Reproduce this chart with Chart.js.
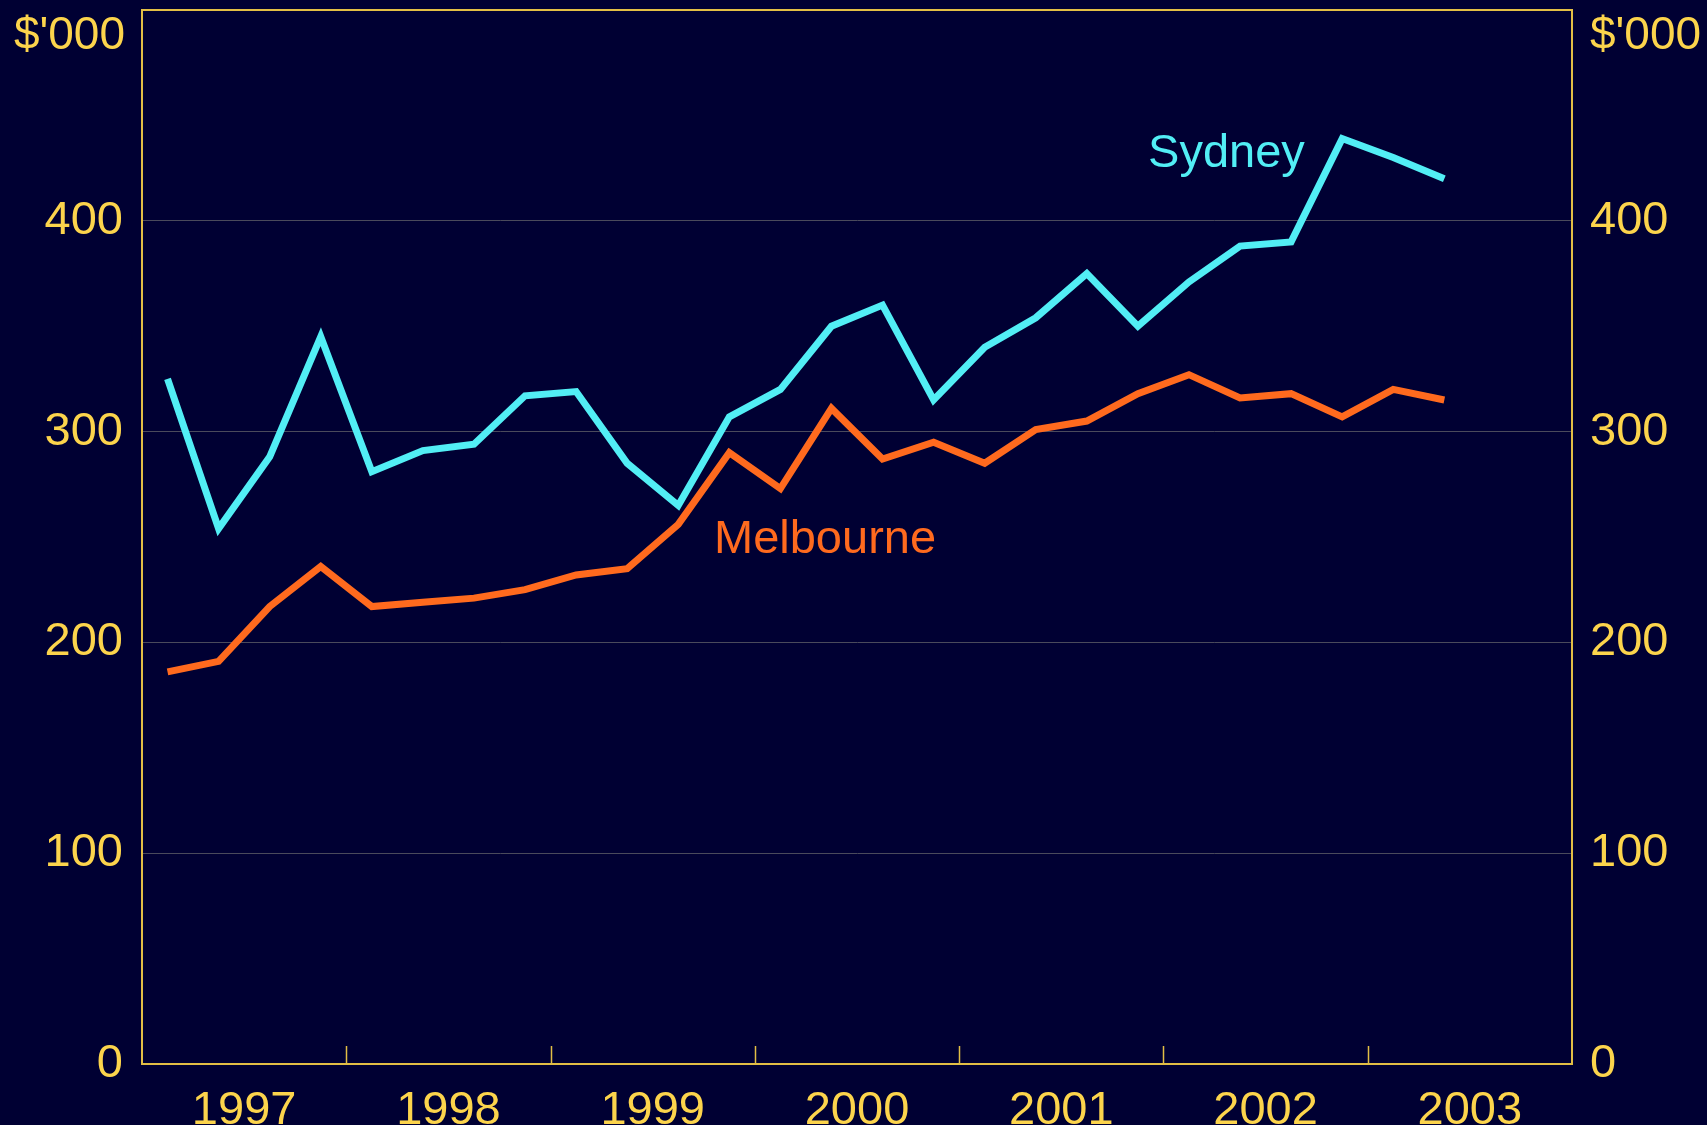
<!DOCTYPE html>
<html>
<head>
<meta charset="utf-8">
<script src="https://cdn.jsdelivr.net/npm/chart.js@4/dist/chart.umd.min.js"></script>
<style>
  body { margin: 0; background: #000033; }
  #wrap { width: 1707px; height: 1125px; position: relative; }
</style>
</head>
<body>
<div id="wrap"><canvas id="chart"></canvas></div>
<script>
// quarterly median house prices, $'000
var quarters = ['1997Q1','1997Q2','1997Q3','1997Q4','1998Q1','1998Q2','1998Q3','1998Q4',
                '1999Q1','1999Q2','1999Q3','1999Q4','2000Q1','2000Q2','2000Q3','2000Q4',
                '2001Q1','2001Q2','2001Q3','2001Q4','2002Q1','2002Q2','2002Q3','2002Q4',
                '2003Q1','2003Q2'];
var sydney = [325, 254, 288, 345, 281, 291, 294, 317, 319, 285, 265, 307, 320, 350, 360, 315,
              340, 354, 375, 350, 371, 388, 390, 439, 430, 420];
var melbourne = [186, 191, 217, 236, 217, 219, 221, 225, 232, 235, 256, 290, 273, 311, 287, 295,
                 285, 301, 305, 318, 327, 316, 318, 307, 320, 315];
var years = [1997, 1998, 1999, 2000, 2001, 2002, 2003];
var yTicks = [0, 100, 200, 300, 400, 500];

var YELLOW = '#FCD44C';
var BORDER = '#E2BE45';
var CYAN = '#52EEF5';
var ORANGE = '#FF6A1E';
var FONT = '"Liberation Sans", Arial, sans-serif';

// quarter label -> position on a year axis (middle of the quarter)
function qPos(q) {
    return parseInt(q.substr(0, 4)) + (parseInt(q.substr(5)) - 0.5) / 4;
}
function toPoints(vals) {
    return vals.map(function (v, i) { return { x: qPos(quarters[i]), y: v }; });
}

var decor = {
    id: 'decor',
    afterDraw: function (chart) {
        var ctx = chart.ctx, a = chart.chartArea;
        var xs = chart.scales.x, ys = chart.scales.y;
        ctx.save();
        // top border line
        ctx.strokeStyle = BORDER;
        ctx.lineWidth = 2;
        ctx.beginPath();
        ctx.moveTo(a.left, a.top);
        ctx.lineTo(a.right, a.top);
        ctx.stroke();
        // year tick marks pointing into plot
        ctx.lineWidth = 1.5;
        for (var i = 1; i < years.length; i++) {
            var px = Math.round(xs.getPixelForValue(years[i])) + 0.5;
            ctx.beginPath();
            ctx.moveTo(px, a.bottom);
            ctx.lineTo(px, a.bottom - 18);
            ctx.stroke();
        }
        // units
        ctx.fillStyle = YELLOW;
        ctx.font = '46px ' + FONT;
        ctx.textBaseline = 'alphabetic';
        ctx.textAlign = 'right';
        ctx.fillText("$'000", a.left - 17, a.top + 39);
        ctx.textAlign = 'left';
        ctx.fillText("$'000", a.right + 18, a.top + 39);
        // series labels
        ctx.font = '47px ' + FONT;
        ctx.fillStyle = CYAN;
        ctx.fillText('Sydney', xs.getPixelForValue(2001.925), ys.getPixelForValue(425.5));
        ctx.fillStyle = ORANGE;
        ctx.fillText('Melbourne', xs.getPixelForValue(1999.8), ys.getPixelForValue(242.4));
        ctx.restore();
    }
};

var tickFont = { family: FONT, size: 47 };

function fixY(w) {
    return function (s) {
        s.width = w;
        s.paddingTop = 0;
        s.paddingBottom = 0;
    };
}

new Chart(document.getElementById('chart'), {
    type: 'line',
    data: {
        datasets: [{
            label: 'Sydney',
            data: toPoints(sydney),
            borderColor: CYAN,
            borderWidth: 7,
            pointRadius: 0,
            tension: 0,
            yAxisID: 'y'
        }, {
            label: 'Melbourne',
            data: toPoints(melbourne),
            borderColor: ORANGE,
            borderWidth: 7,
            pointRadius: 0,
            tension: 0,
            yAxisID: 'y'
        }]
    },
    options: {
        responsive: true,
        maintainAspectRatio: false,
        animation: false,
        layout: { padding: { top: 10, left: 0, right: 0, bottom: 0 } },
        plugins: { legend: { display: false }, tooltip: { enabled: false } },
        scales: {
            x: {
                type: 'linear',
                position: 'bottom',
                min: years[0],
                max: years[years.length - 1] + 1,
                afterBuildTicks: function (s) {
                    s.ticks = years.map(function (y) { return { value: y + 0.5 }; });
                },
                afterFit: function (s) {
                    s.height = 61;
                    s.paddingLeft = 0;
                    s.paddingRight = 0;
                },
                ticks: {
                    color: YELLOW,
                    font: tickFont,
                    padding: 11,
                    autoSkip: false,
                    maxRotation: 0,
                    callback: function (v, i) { return String(years[i]); }
                },
                grid: { display: false },
                border: { display: true, color: BORDER, width: 2 }
            },
            y: {
                position: 'left',
                min: yTicks[0],
                max: yTicks[yTicks.length - 1],
                afterBuildTicks: function (s) {
                    s.ticks = yTicks.map(function (v) { return { value: v }; });
                },
                afterFit: fixY(142),
                ticks: {
                    color: YELLOW,
                    font: tickFont,
                    padding: 19,
                    callback: function (v) { return v === 500 ? '' : v; }
                },
                grid: {
                    drawTicks: false,
                    lineWidth: 1,
                    color: function (c) {
                        return (c.tick && (c.tick.value === 0 || c.tick.value === 500)) ? 'rgba(0,0,0,0)' : '#4a4a5c';
                    }
                },
                border: { display: true, color: BORDER, width: 2 }
            },
            y2: {
                position: 'right',
                min: yTicks[0],
                max: yTicks[yTicks.length - 1],
                afterBuildTicks: function (s) {
                    s.ticks = yTicks.map(function (v) { return { value: v }; });
                },
                afterFit: fixY(135),
                ticks: {
                    color: YELLOW,
                    font: tickFont,
                    padding: 18,
                    callback: function (v) { return v === 500 ? '' : v; }
                },
                grid: { display: false, drawTicks: false },
                border: { display: true, color: BORDER, width: 2 }
            }
        }
    },
    plugins: [decor]
});
</script>
</body>
</html>
